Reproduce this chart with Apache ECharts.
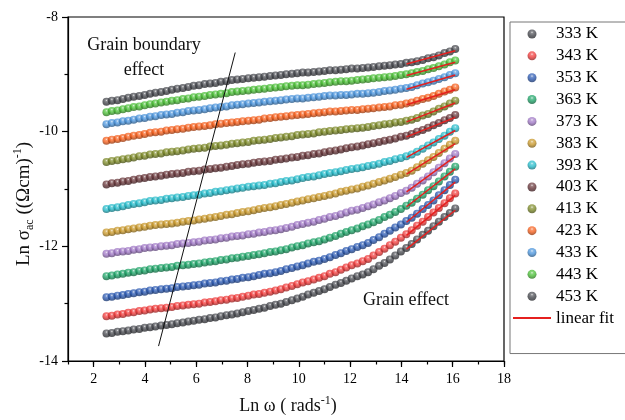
<!DOCTYPE html>
<html>
<head>
<meta charset="utf-8">
<script src="https://cdn.jsdelivr.net/npm/echarts@6/dist/echarts.min.js"></script>
<style>html,body{margin:0;padding:0;background:#fff}#c{width:625px;height:420px}</style>
</head>
<body>
<div id="c"></div>
<script>
// ---- data ----
const temps = ['333 K','343 K','353 K','363 K','373 K','383 K','393 K','403 K','413 K','423 K','433 K','443 K','453 K'];
const lnOmega = [2.50,2.71,2.93,3.14,3.35,3.56,3.78,3.99,4.20,4.41,4.63,4.84,5.05,5.26,5.48,5.69,5.90,6.11,6.33,6.54,6.75,6.96,7.18,7.39,7.60,7.81,8.03,8.24,8.45,8.66,8.88,9.09,9.30,9.51,9.73,9.94,10.15,10.36,10.58,10.79,11.00,11.21,11.43,11.64,11.85,12.06,12.28,12.49,12.70,12.91,13.13,13.34,13.55,13.76,13.98,14.19,14.40,14.61,14.83,15.04,15.25,15.46,15.68,15.89,16.10];
const s333 = [-13.52,-13.51,-13.49,-13.48,-13.47,-13.45,-13.44,-13.42,-13.41,-13.40,-13.38,-13.37,-13.36,-13.34,-13.33,-13.31,-13.30,-13.28,-13.27,-13.25,-13.24,-13.22,-13.20,-13.19,-13.17,-13.15,-13.13,-13.11,-13.09,-13.07,-13.04,-13.02,-13.00,-12.97,-12.94,-12.91,-12.88,-12.84,-12.81,-12.78,-12.75,-12.71,-12.67,-12.64,-12.60,-12.56,-12.52,-12.49,-12.45,-12.40,-12.34,-12.29,-12.23,-12.16,-12.09,-12.03,-11.96,-11.88,-11.80,-11.73,-11.65,-11.57,-11.49,-11.42,-11.34];
const s343 = [-13.22,-13.21,-13.19,-13.18,-13.16,-13.15,-13.13,-13.12,-13.10,-13.09,-13.08,-13.07,-13.06,-13.04,-13.03,-13.02,-13.01,-13.00,-12.98,-12.97,-12.96,-12.94,-12.93,-12.91,-12.90,-12.88,-12.86,-12.84,-12.83,-12.81,-12.79,-12.77,-12.75,-12.72,-12.69,-12.66,-12.63,-12.61,-12.58,-12.55,-12.52,-12.48,-12.45,-12.41,-12.37,-12.33,-12.30,-12.26,-12.22,-12.16,-12.10,-12.04,-11.98,-11.92,-11.85,-11.79,-11.72,-11.64,-11.57,-11.49,-11.41,-11.33,-11.25,-11.16,-11.08];
const s353 = [-12.89,-12.88,-12.86,-12.85,-12.83,-12.82,-12.80,-12.79,-12.77,-12.76,-12.75,-12.74,-12.73,-12.71,-12.70,-12.69,-12.68,-12.67,-12.65,-12.64,-12.63,-12.61,-12.60,-12.58,-12.57,-12.55,-12.54,-12.52,-12.50,-12.48,-12.47,-12.45,-12.43,-12.40,-12.38,-12.35,-12.33,-12.30,-12.27,-12.25,-12.22,-12.19,-12.15,-12.12,-12.08,-12.05,-12.01,-11.98,-11.94,-11.89,-11.84,-11.78,-11.73,-11.67,-11.62,-11.56,-11.50,-11.43,-11.35,-11.28,-11.20,-11.11,-11.02,-10.93,-10.84];
const s363 = [-12.52,-12.51,-12.49,-12.48,-12.46,-12.45,-12.43,-12.42,-12.40,-12.39,-12.38,-12.37,-12.36,-12.34,-12.33,-12.32,-12.31,-12.30,-12.28,-12.27,-12.26,-12.24,-12.23,-12.21,-12.20,-12.18,-12.17,-12.15,-12.14,-12.12,-12.10,-12.09,-12.07,-12.05,-12.02,-12.00,-11.98,-11.95,-11.93,-11.91,-11.88,-11.85,-11.82,-11.78,-11.75,-11.72,-11.69,-11.65,-11.62,-11.58,-11.54,-11.49,-11.45,-11.40,-11.35,-11.29,-11.24,-11.17,-11.10,-11.02,-10.95,-10.87,-10.78,-10.70,-10.61];
const s373 = [-12.13,-12.12,-12.10,-12.09,-12.08,-12.06,-12.05,-12.03,-12.02,-12.01,-12.00,-11.99,-11.98,-11.96,-11.95,-11.94,-11.93,-11.92,-11.90,-11.89,-11.88,-11.86,-11.85,-11.83,-11.82,-11.81,-11.79,-11.78,-11.76,-11.75,-11.73,-11.72,-11.70,-11.68,-11.66,-11.63,-11.61,-11.59,-11.57,-11.54,-11.52,-11.49,-11.47,-11.44,-11.41,-11.38,-11.36,-11.33,-11.30,-11.27,-11.23,-11.20,-11.16,-11.12,-11.07,-11.03,-10.98,-10.91,-10.85,-10.78,-10.71,-10.63,-10.55,-10.47,-10.39];
const s383 = [-11.76,-11.75,-11.73,-11.72,-11.70,-11.69,-11.67,-11.66,-11.64,-11.63,-11.62,-11.61,-11.60,-11.59,-11.57,-11.56,-11.55,-11.53,-11.52,-11.50,-11.49,-11.47,-11.45,-11.44,-11.42,-11.40,-11.39,-11.37,-11.35,-11.33,-11.32,-11.30,-11.28,-11.26,-11.24,-11.22,-11.20,-11.18,-11.16,-11.14,-11.12,-11.10,-11.08,-11.05,-11.03,-11.01,-10.99,-10.96,-10.94,-10.91,-10.88,-10.85,-10.82,-10.79,-10.75,-10.72,-10.68,-10.62,-10.56,-10.50,-10.44,-10.37,-10.30,-10.23,-10.16];
const s393 = [-11.35,-11.33,-11.32,-11.30,-11.28,-11.26,-11.25,-11.23,-11.21,-11.20,-11.19,-11.17,-11.16,-11.15,-11.14,-11.12,-11.11,-11.10,-11.08,-11.07,-11.05,-11.04,-11.02,-11.01,-10.99,-10.98,-10.96,-10.95,-10.94,-10.93,-10.91,-10.90,-10.88,-10.86,-10.85,-10.83,-10.81,-10.79,-10.78,-10.76,-10.74,-10.72,-10.71,-10.69,-10.67,-10.65,-10.64,-10.62,-10.60,-10.58,-10.56,-10.53,-10.51,-10.48,-10.46,-10.43,-10.40,-10.35,-10.30,-10.24,-10.19,-10.13,-10.07,-10.00,-9.94];
const s403 = [-10.92,-10.90,-10.89,-10.87,-10.86,-10.84,-10.82,-10.81,-10.79,-10.78,-10.77,-10.75,-10.74,-10.73,-10.72,-10.70,-10.69,-10.68,-10.66,-10.65,-10.64,-10.63,-10.61,-10.60,-10.58,-10.57,-10.56,-10.54,-10.53,-10.52,-10.51,-10.49,-10.48,-10.47,-10.45,-10.44,-10.42,-10.41,-10.39,-10.38,-10.36,-10.34,-10.33,-10.31,-10.29,-10.27,-10.26,-10.24,-10.22,-10.20,-10.18,-10.16,-10.14,-10.12,-10.09,-10.07,-10.04,-10.00,-9.97,-9.93,-9.89,-9.85,-9.80,-9.76,-9.71];
const s413 = [-10.53,-10.51,-10.50,-10.48,-10.47,-10.45,-10.43,-10.42,-10.40,-10.39,-10.38,-10.36,-10.35,-10.34,-10.33,-10.31,-10.30,-10.29,-10.28,-10.26,-10.25,-10.24,-10.23,-10.21,-10.20,-10.19,-10.18,-10.16,-10.15,-10.14,-10.13,-10.11,-10.10,-10.09,-10.08,-10.06,-10.05,-10.04,-10.03,-10.01,-10.00,-9.99,-9.98,-9.97,-9.96,-9.95,-9.94,-9.93,-9.92,-9.90,-9.89,-9.87,-9.86,-9.84,-9.83,-9.81,-9.79,-9.76,-9.72,-9.69,-9.65,-9.60,-9.56,-9.51,-9.46];
const s423 = [-10.16,-10.14,-10.13,-10.11,-10.09,-10.07,-10.06,-10.04,-10.02,-10.01,-10.00,-9.98,-9.97,-9.96,-9.95,-9.93,-9.92,-9.91,-9.90,-9.89,-9.87,-9.86,-9.85,-9.84,-9.83,-9.82,-9.81,-9.80,-9.79,-9.77,-9.76,-9.75,-9.74,-9.73,-9.72,-9.71,-9.70,-9.69,-9.68,-9.67,-9.66,-9.65,-9.65,-9.64,-9.63,-9.62,-9.62,-9.61,-9.60,-9.59,-9.58,-9.57,-9.56,-9.54,-9.53,-9.51,-9.49,-9.46,-9.43,-9.41,-9.38,-9.34,-9.30,-9.27,-9.23];
const s433 = [-9.87,-9.85,-9.84,-9.82,-9.81,-9.79,-9.77,-9.76,-9.74,-9.73,-9.71,-9.70,-9.69,-9.67,-9.66,-9.64,-9.63,-9.62,-9.61,-9.59,-9.58,-9.57,-9.56,-9.54,-9.53,-9.52,-9.51,-9.50,-9.49,-9.48,-9.47,-9.46,-9.45,-9.44,-9.43,-9.42,-9.42,-9.41,-9.40,-9.39,-9.38,-9.37,-9.37,-9.36,-9.36,-9.35,-9.34,-9.34,-9.33,-9.32,-9.31,-9.29,-9.28,-9.27,-9.25,-9.24,-9.22,-9.19,-9.16,-9.14,-9.11,-9.08,-9.05,-9.01,-8.98];
const s443 = [-9.66,-9.64,-9.63,-9.61,-9.59,-9.57,-9.56,-9.54,-9.52,-9.51,-9.49,-9.48,-9.46,-9.45,-9.43,-9.42,-9.40,-9.39,-9.38,-9.36,-9.35,-9.34,-9.33,-9.31,-9.30,-9.29,-9.28,-9.27,-9.26,-9.25,-9.24,-9.23,-9.22,-9.21,-9.20,-9.19,-9.19,-9.18,-9.17,-9.16,-9.15,-9.14,-9.13,-9.12,-9.12,-9.11,-9.10,-9.09,-9.08,-9.07,-9.06,-9.05,-9.04,-9.03,-9.01,-9.00,-8.98,-8.96,-8.94,-8.91,-8.89,-8.86,-8.83,-8.79,-8.76];
const s453 = [-9.48,-9.46,-9.45,-9.43,-9.41,-9.39,-9.38,-9.36,-9.34,-9.32,-9.31,-9.29,-9.27,-9.25,-9.24,-9.22,-9.20,-9.19,-9.17,-9.16,-9.15,-9.13,-9.12,-9.10,-9.09,-9.08,-9.07,-9.06,-9.05,-9.04,-9.03,-9.02,-9.01,-9.00,-8.99,-8.98,-8.97,-8.97,-8.96,-8.95,-8.94,-8.93,-8.93,-8.92,-8.91,-8.90,-8.90,-8.89,-8.88,-8.87,-8.86,-8.85,-8.84,-8.83,-8.82,-8.80,-8.79,-8.77,-8.75,-8.72,-8.70,-8.67,-8.63,-8.60,-8.56];
// linear fits (high-frequency region), one per temperature, 333 K ... 453 K
const fitX = [14.2, 16.1];
const fitStart = [-12.05,-11.81,-11.58,-11.31,-11.05,-10.74,-10.45,-10.09,-9.83,-9.53,-9.26,-9.02,-8.82];
const fitEnd = [-11.37,-11.11,-10.88,-10.65,-10.43,-10.21,-9.98,-9.75,-9.50,-9.27,-9.01,-8.79,-8.59];
// guide line separating grain-boundary region
const guideX = [4.53, 7.52];
const guideY = [-13.74, -8.62];
const xTicks = [2,4,6,8,10,12,14,16,18];

// ---- styling ----
const seriesY = [s333,s343,s353,s363,s373,s383,s393,s403,s413,s423,s433,s443,s453];
const colors = ['#47494f','#f03a3a','#2b59b2','#1ea468','#a078c6','#c9982a','#25bccb','#68363a','#7d8a28','#f65f1c','#4a94dc','#4bbf37','#47494f'];
const FONT = "'Liberation Serif','Times New Roman',serif";

function shade(hex, f) {
  const n = parseInt(hex.slice(1), 16);
  let r = (n >> 16) & 255, g = (n >> 8) & 255, b = n & 255;
  if (f >= 0) { r += (255 - r) * f; g += (255 - g) * f; b += (255 - b) * f; }
  else { r *= 1 + f; g *= 1 + f; b *= 1 + f; }
  return 'rgb(' + Math.round(r) + ',' + Math.round(g) + ',' + Math.round(b) + ')';
}
function ball(c) {
  return { type: 'radial', x: 0.5, y: 0.32, r: 0.62,
    colorStops: [{offset: 0, color: shade(c, 0.8)}, {offset: 0.22, color: shade(c, 0.2)}, {offset: 0.55, color: c}, {offset: 1, color: shade(c, -0.35)}] };
}

const series = [];
temps.forEach((t, i) => {
  series.push({
    name: t, type: 'scatter', symbol: 'circle', symbolSize: 8,
    itemStyle: { color: ball(colors[i]) },
    data: lnOmega.map((x, k) => [x, seriesY[i][k]]), z: 2
  });
});
temps.forEach((t, i) => {
  series.push({
    name: 'linear fit', type: 'line', symbol: 'none', silent: true,
    lineStyle: { color: '#e5201f', width: 1.5 }, itemStyle: { color: '#e5201f', opacity: 0 },
    data: [[fitX[0], fitStart[i]], [fitX[1], fitEnd[i]]], z: 3
  });
});
series.push({
  type: 'line', symbol: 'none', silent: true,
  lineStyle: { color: '#111', width: 1 },
  data: [[guideX[0], guideY[0]], [guideX[1], guideY[1]]], z: 4
});

const chart = echarts.init(document.getElementById('c'), null, { renderer: 'canvas' });
chart.setOption({
  animation: false,
  backgroundColor: '#fff',
  grid: { left: 68, right: 121, top: 17, bottom: 59, show: true, borderColor: '#000', borderWidth: 1.2, backgroundColor: 'transparent' },
  xAxis: [{
    type: 'value', min: 1, max: 18, interval: 1, position: 'bottom',
    axisLine: { lineStyle: { color: '#000', width: 1.2 } },
    axisTick: { length: 3.5, lineStyle: { color: '#000', width: 1.2 } },
    axisLabel: { color: '#000', fontFamily: FONT, fontSize: 14, margin: 11,
      formatter: v => (v % 2 === 0 ? String(v) : '') },
    splitLine: { show: false }
  }, {
    type: 'value', min: 1, max: 18, position: 'bottom',
    axisLine: { show: false },
    axisTick: { length: 6, customValues: xTicks, lineStyle: { color: '#000', width: 1.2 } },
    axisLabel: { show: false },
    splitLine: { show: false }
  }],
  yAxis: {
    type: 'value', min: -14, max: -8, interval: 2,
    axisLine: { lineStyle: { color: '#000', width: 1.2 } },
    axisTick: { length: 6, lineStyle: { color: '#000', width: 1.2 } },
    minorTick: { show: true, splitNumber: 2, length: 3.5, lineStyle: { color: '#000', width: 1.2 } },
    axisLabel: { color: '#000', fontFamily: FONT, fontSize: 14, margin: 10 },
    splitLine: { show: false }
  },
  legend: {
    orient: 'vertical', left: 510, top: 22,
    padding: [3.5, 70, 27, 2],
    data: temps.concat([{ name: 'linear fit', itemStyle: { opacity: 0 } }]),
    itemWidth: 38, itemHeight: 9, itemGap: 4.85,
    borderColor: '#777', borderWidth: 1,
    textStyle: { color: '#000', fontFamily: FONT, fontSize: 17 },
    selectedMode: false
  },
  graphic: [
    { type: 'text', x: 144, y: 45, style: { text: 'Grain boundary', font: '18px ' + FONT, fill: '#111', textAlign: 'center', textVerticalAlign: 'middle' } },
    { type: 'text', x: 144, y: 70, style: { text: 'effect', font: '18px ' + FONT, fill: '#111', textAlign: 'center', textVerticalAlign: 'middle' } },
    { type: 'text', x: 406, y: 300, style: { text: 'Grain effect', font: '18px ' + FONT, fill: '#111', textAlign: 'center', textVerticalAlign: 'middle' } },
    { type: 'text', x: 288, y: 406, style: {
      text: '{n|Ln ω ( rads}{s|-1}{n|)}', textAlign: 'center', textVerticalAlign: 'middle',
      rich: { n: { fontFamily: FONT, fontSize: 18, lineHeight: 22, fill: '#111' },
              s: { fontFamily: FONT, fontSize: 12, lineHeight: 22, verticalAlign: 'top', fill: '#111' } } } },
    { type: 'text', x: 24, y: 204, rotation: Math.PI / 2, style: {
      text: '{n|Ln σ}{b|ac}{n| ((Ωcm)}{s|-1}{n|)}', textAlign: 'center', textVerticalAlign: 'middle',
      rich: { n: { fontFamily: FONT, fontSize: 19, lineHeight: 24, fill: '#111' },
              b: { fontFamily: FONT, fontSize: 12, lineHeight: 24, verticalAlign: 'bottom', fill: '#111' },
              s: { fontFamily: FONT, fontSize: 12, lineHeight: 24, verticalAlign: 'top', fill: '#111' } } } }
  ],
  series: series
});
</script>
</body>
</html>
